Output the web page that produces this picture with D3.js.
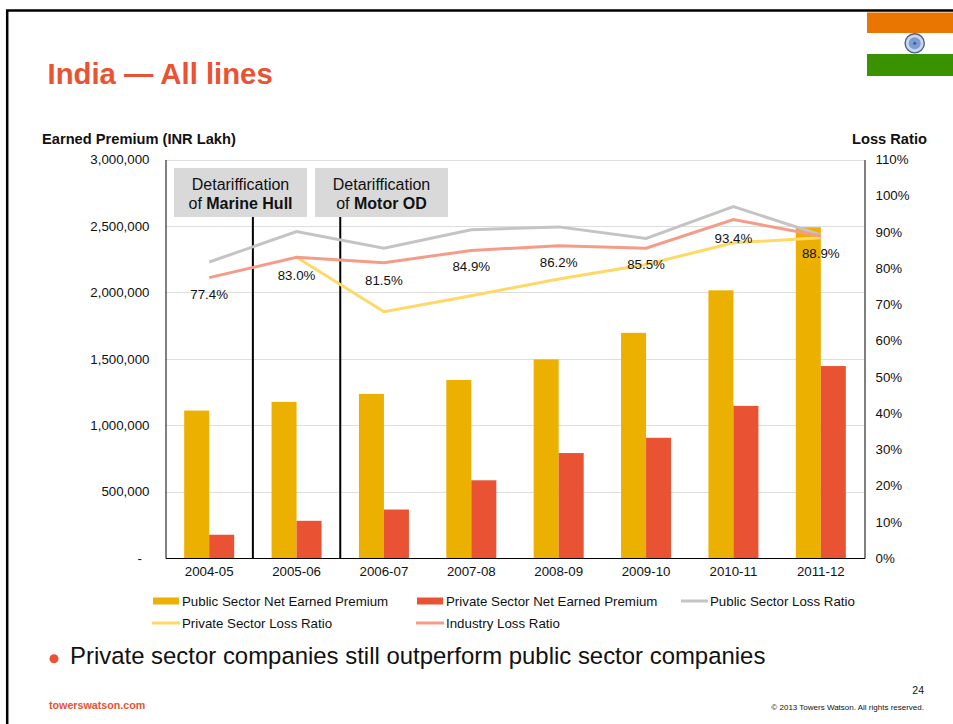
<!DOCTYPE html>
<html>
<head>
<meta charset="utf-8">
<script src="https://cdn.jsdelivr.net/npm/d3@7/dist/d3.min.js"></script>
<style>
html,body{margin:0;padding:0;background:#fff;}
svg{display:block;font-family:"Liberation Sans",Arial,sans-serif;}
</style>
</head>
<body>
<svg id="slide" width="953" height="724"></svg>
<script>
// Fiscal years and series, premium in INR lakh, ratios in percent
const years = ["2004-05","2005-06","2006-07","2007-08","2008-09","2009-10","2010-11","2011-12"];
const publicPremium = [1110000,1175000,1235000,1340000,1495000,1695000,2015000,2490000];
const privatePremium = [175000,280000,365000,585000,790000,905000,1145000,1445000];
const publicLossRatio = [81.7,90.1,85.5,90.6,91.4,88.2,97.0,89.2];
const privateLossRatio = [null,83.0,68.0,72.4,77.0,81.0,87.0,88.4];
const industryLossRatio = [77.4,83.0,81.5,84.9,86.2,85.5,93.4,88.9];
const premiumTicks = [0,500000,1000000,1500000,2000000,2500000,3000000];
const ratioTicks = [0,10,20,30,40,50,60,70,80,90,100,110];
// Vertical offset of each industry value label from its point
const labelOffsets = [21,23,22,21,21,21,23,22];

const colors = {public:"#EBB000", private:"#E95233", grayLine:"#C4C4C4", yellowLine:"#FFD966", salmonLine:"#F59C89", text:"#111"};

const svg = d3.select("#slide");
const plotLeft = 165.5, plotRight = 864.5, plotTop = 159.5, plotBottom = 558;

const x = d3.scaleBand().domain(years).range([plotLeft,plotRight]);
const yPremium = d3.scaleLinear().domain([0,3000000]).range([plotBottom,plotTop]);
const yRatio = d3.scaleLinear().domain([0,110]).range([plotBottom,plotTop]);
const barWidth = 25;

// Slide frame
svg.append("path").attr("d","M7.2,724V10.5H953").attr("fill","none").attr("stroke","#000").attr("stroke-width",2.5);

// Flag in the top corner
const flag = svg.append("g");
flag.append("rect").attr("x",867).attr("y",12.5).attr("width",86).attr("height",20.5).attr("fill","#E87600");
flag.append("rect").attr("x",867).attr("y",33).attr("width",86).attr("height",21).attr("fill","#fff");
flag.append("rect").attr("x",867).attr("y",54).attr("width",86).attr("height",22).attr("fill","#3A9200");
flag.append("circle").attr("cx",914.7).attr("cy",43.3).attr("r",9.6).attr("fill","#C9D6EC").attr("stroke","#4A5F8C").attr("stroke-width",1.4);
flag.append("circle").attr("cx",914.7).attr("cy",43.3).attr("r",6).attr("fill","#7E9BD2");
flag.append("circle").attr("cx",914.7).attr("cy",43.3).attr("r",1.6).attr("fill","#3F5FA8");

// Heading and axis titles
svg.append("text").attr("x",47.5).attr("y",83.5).attr("fill",colors.private).attr("font-size",29.3).attr("font-weight","bold").text("India — All lines");
svg.append("text").attr("x",42).attr("y",144).attr("fill",colors.text).attr("font-size",14.67).attr("font-weight","bold").text("Earned Premium (INR Lakh)");
svg.append("text").attr("x",852).attr("y",144).attr("fill",colors.text).attr("font-size",14.67).attr("font-weight","bold").text("Loss Ratio");

// Horizontal gridlines
svg.append("g").selectAll("line").data(premiumTicks.filter(d=>d>0)).join("line")
  .attr("x1",plotLeft).attr("x2",plotRight).attr("y1",d=>Math.round(yPremium(d))+.5).attr("y2",d=>Math.round(yPremium(d))+.5)
  .attr("stroke","#DEDEDE").attr("stroke-width",1);

// Left axis
const axisL = svg.append("g").attr("transform",`translate(${plotLeft},0)`)
  .call(d3.axisLeft(yPremium).tickValues(premiumTicks).tickSize(0).tickPadding(16).tickFormat(d=>d===0?"-":d3.format(",")(d)));
axisL.select(".domain").attr("stroke","#000").attr("stroke-width",1);
axisL.selectAll("text").attr("fill",colors.text).attr("font-size",13.3).attr("font-family","inherit");
axisL.selectAll(".tick").filter(d=>d===0).select("text").attr("dx",-7.5);

// Right axis
const axisR = svg.append("g").attr("transform",`translate(${plotRight},0)`)
  .call(d3.axisRight(yRatio).tickValues(ratioTicks).tickSize(0).tickPadding(11).tickFormat(d=>d+"%"));
axisR.select(".domain").attr("stroke","#000").attr("stroke-width",1);
axisR.selectAll("text").attr("fill",colors.text).attr("font-size",13.3).attr("font-family","inherit");

// Premium bars
svg.append("g").selectAll("rect").data(years).join("rect")
  .attr("x",d=>x(d)+x.bandwidth()/2-barWidth).attr("width",barWidth)
  .attr("y",(d,i)=>yPremium(publicPremium[i])).attr("height",(d,i)=>plotBottom-yPremium(publicPremium[i]))
  .attr("fill",colors.public);
svg.append("g").selectAll("rect").data(years).join("rect")
  .attr("x",d=>x(d)+x.bandwidth()/2).attr("width",barWidth)
  .attr("y",(d,i)=>yPremium(privatePremium[i])).attr("height",(d,i)=>plotBottom-yPremium(privatePremium[i]))
  .attr("fill",colors.private);

// Bottom axis
const axisB = svg.append("g").attr("transform",`translate(0,${plotBottom})`)
  .call(d3.axisBottom(x).tickSize(0).tickPadding(9));
axisB.select(".domain").attr("stroke","#000").attr("stroke-width",1);
axisB.selectAll("text").attr("fill",colors.text).attr("font-size",13.3).attr("font-family","inherit");

// Detariffication markers sit on the boundaries between fiscal years
const markers = [
  {year:"2005-06", plain:"of ", bold:"Marine Hull", boxX:174},
  {year:"2006-07", plain:"of ", bold:"Motor OD", boxX:315}
];
markers.forEach(m=>{
  svg.append("line").attr("x1",x(m.year)).attr("x2",x(m.year)).attr("y1",217).attr("y2",plotBottom)
    .attr("stroke","#000").attr("stroke-width",2);
  svg.append("rect").attr("x",m.boxX).attr("y",168).attr("width",133).attr("height",49).attr("fill","#D9D9D9");
  svg.append("text").attr("x",m.boxX+66.5).attr("y",189.5).attr("text-anchor","middle").attr("font-size",16).attr("fill",colors.text).text("Detariffication");
  const t = svg.append("text").attr("x",m.boxX+66.5).attr("y",208.5).attr("text-anchor","middle").attr("font-size",16).attr("fill",colors.text);
  t.append("tspan").text(m.plain);
  t.append("tspan").attr("font-weight","bold").text(m.bold);
});

// Loss ratio lines
const line = d3.line().defined(d=>d!==null).x((d,i)=>x(years[i])+x.bandwidth()/2).y(d=>yRatio(d));
[[publicLossRatio,colors.grayLine],[privateLossRatio,colors.yellowLine],[industryLossRatio,colors.salmonLine]].forEach(([s,c])=>{
  svg.append("path").attr("d",line(s)).attr("fill","none").attr("stroke",c).attr("stroke-width",3);
});

// Industry loss ratio labels
svg.append("g").selectAll("text").data(industryLossRatio).join("text")
  .attr("x",(d,i)=>x(years[i])+x.bandwidth()/2)
  .attr("y",(d,i)=>yRatio(d)+labelOffsets[i])
  .attr("text-anchor","middle").attr("font-size",13.3).attr("fill",colors.text)
  .text(d=>d.toFixed(1)+"%");

// Legend
const legendBars = [
  {label:"Public Sector Net Earned Premium", color:colors.public, sx:153, tx:182, y:601},
  {label:"Private Sector Net Earned Premium", color:colors.private, sx:417, tx:446, y:601}
];
const legendLines = [
  {label:"Public Sector Loss Ratio", color:colors.grayLine, sx:681, tx:710, y:601},
  {label:"Private Sector Loss Ratio", color:colors.yellowLine, sx:152, tx:182, y:623},
  {label:"Industry Loss Ratio", color:colors.salmonLine, sx:416, tx:446, y:623}
];
const legend = svg.append("g");
legendBars.forEach(d=>{
  legend.append("rect").attr("x",d.sx).attr("y",d.y-3.5).attr("width",26).attr("height",7).attr("fill",d.color);
});
legendLines.forEach(d=>{
  legend.append("line").attr("x1",d.sx).attr("x2",d.tx-2).attr("y1",d.y).attr("y2",d.y).attr("stroke",d.color).attr("stroke-width",3);
});
[...legendBars,...legendLines].forEach(d=>{
  legend.append("text").attr("x",d.tx).attr("y",d.y+5).attr("font-size",13.3).attr("fill",colors.text).text(d.label);
});

// Takeaway bullet
svg.append("circle").attr("cx",54).attr("cy",658.7).attr("r",4.5).attr("fill",colors.private);
svg.append("text").attr("x",70).attr("y",664).attr("font-size",23.93).attr("fill",colors.text).text("Private sector companies still outperform public sector companies");

// Footer
svg.append("text").attr("x",49).attr("y",709).attr("font-size",10.7).attr("font-weight","bold").attr("fill",colors.private).text("towerswatson.com");
svg.append("text").attr("x",924).attr("y",694).attr("text-anchor","end").attr("font-size",10.5).attr("fill",colors.text).text("24");
svg.append("text").attr("x",924).attr("y",710).attr("text-anchor","end").attr("font-size",8).attr("fill",colors.text).text("© 2013 Towers Watson. All rights reserved.");
</script>
</body>
</html>
